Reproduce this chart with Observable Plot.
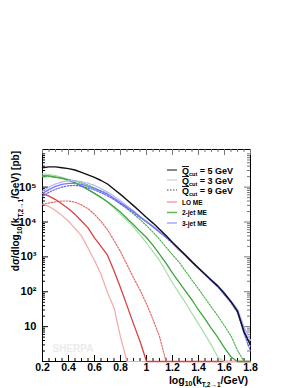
<!DOCTYPE html>
<html><head><meta charset="utf-8">
<script src="https://cdn.jsdelivr.net/npm/d3@7"></script>
<script src="https://cdn.jsdelivr.net/npm/@observablehq/plot@0.6"></script>
<style>body{margin:0;background:#fff}</style>
</head><body><div id="chart"></div>
<script>
// bin positions, log10(kT/GeV)
const xBins = [0.2,0.25,0.3,0.35,0.4,0.45,0.5,0.55,0.6,0.65,0.7,0.75,0.8,0.85,0.9,0.95,1.0,1.05,1.1,1.15,1.2,1.25,1.3,1.35,1.4,1.45,1.5,1.55,1.6,1.65,1.7,1.75,1.8];
// total, Qcut = 5 GeV
const total5 = [3.6e5,3.8e5,3.8e5,3.6e5,3.4e5,3.1e5,2.65e5,2.25e5,1.9e5,1.55e5,1.23e5,8.7e4,6.2e4,4.3e4,2.95e4,2.0e4,1.35e4,9.3e3,6.2e3,4.1e3,2.6e3,1.7e3,1.12e3,720,480,320,214,145,89,52,28,7,3];
// 3-jet ME
const jet3_q5 = [6.6e4,8.5e4,1.05e5,1.2e5,1.29e5,1.29e5,1.2e5,1.05e5,9.1e4,7.6e4,6.2e4,4.8e4,3.6e4,2.7e4,2.0e4,1.41e4,1.02e4,7.4e3,5.2e3,3.7e3,2.5e3,1.62e3,1.1e3,700,470,316,205,141,85,51,27,8,2.8];
const jet3_q3 = [7.6e4,1.0e5,1.23e5,1.41e5,1.51e5,1.51e5,1.45e5,1.29e5,1.12e5,9.1e4,7.2e4,5.5e4,4.1e4,2.9e4,2.1e4,1.45e4,1.05e4,7.6e3,5.4e3,3.8e3,2.57e3,1.66e3,1.15e3,740,480,330,219,148,93,55,32,10,4];
const jet3_q9 = [5.5e4,7.1e4,8.7e4,1.0e5,1.1e5,1.12e5,1.07e5,9.5e4,8.3e4,6.9e4,5.6e4,4.4e4,3.3e4,2.5e4,1.86e4,1.35e4,1.0e4,7.2e3,5.1e3,3.6e3,2.45e3,1.58e3,1.07e3,690,457,309,200,135,81,48,25,6.3,2];
// 2-jet ME
const jet2_q5 = [2.14e5,2.09e5,1.95e5,1.78e5,1.55e5,1.32e5,1.07e5,8.5e4,6.6e4,5.1e4,3.8e4,2.75e4,1.9e4,1.26e4,8.3e3,5.4e3,3.6e3,2.14e3,1.2e3,660,340,190,105,58,30,16.6,8.7,4.8,2.45,1.35,1,1,1];
const jet2_q3 = [2.4e5,2.3e5,2.14e5,1.9e5,1.66e5,1.38e5,1.12e5,8.7e4,6.6e4,5.0e4,3.7e4,2.5e4,1.66e4,1.1e4,7.1e3,4.3e3,2.5e3,1.41e3,790,380,178,93,48,24,12,6,2.9,1.3,1,1,1,1,1];
const jet2_q9 = [2.0e5,2.0e5,1.9e5,1.82e5,1.66e5,1.51e5,1.32e5,1.15e5,9.5e4,7.9e4,6.5e4,4.57e4,3.3e4,2.4e4,1.7e4,1.17e4,7.9e3,5.1e3,3.2e3,1.9e3,1.15e3,710,390,214,120,66,36,20,10.5,5.4,2.1,1,1];
// LO ME
const lo_q5 = [6.6e4,5.5e4,4.4e4,3.3e4,2.4e4,1.66e4,1.07e4,6.8e3,3.5e3,2.0e3,1.12e3,400,130,40,12,3.8,1,1,1,1,1,1,1,1,1,1,1,1,1,1,1,1,1];
const lo_q3 = [3.2e4,2.8e4,2.14e4,1.55e4,1.05e4,6.6e3,4.0e3,1.8e3,790,316,95,35,5,1,1,1,1,1,1,1,1,1,1,1,1,1,1,1,1,1,1,1,1];
const lo_q9 = [3.2e4,3.5e4,3.8e4,4.0e4,4.0e4,3.7e4,3.1e4,2.4e4,1.66e4,1.05e4,6.0e3,2.95e3,1.41e3,600,250,112,45,16,5.2,1,1,1,1,1,1,1,1,1,1,1,1,1,1];

const xTicks = [0.2,0.4,0.6,0.8,1.0,1.2,1.4,1.6,1.8];
const xTickLabels = ["0.2","0.4","0.6","0.8","1","1.2","1.4","1.6","1.8"];
const yTicks = [10,100,1000,10000,100000];
const yTickLabels = ["10","10²","10³","10⁴","10⁵"];

const legendQ = ["5 GeV","3 GeV","9 GeV"];
const legendME = ["LO ME","2-jet ME","3-jet ME"];

// series styling (drawn in this order)
const series = [
  {name:"LO ME Q3", v:lo_q3, stroke:"#f3a8a8", w:1.2, dash:null},
  {name:"LO ME Q9", v:lo_q9, stroke:"#e46a6a", w:1.2, dash:"1.5,1.5"},
  {name:"LO ME Q5", v:lo_q5, stroke:"#dc4040", w:1.3, dash:null},
  {name:"2-jet Q3", v:jet2_q3, stroke:"#a9dca9", w:1.2, dash:null},
  {name:"2-jet Q9", v:jet2_q9, stroke:"#52b452", w:1.2, dash:"1.5,1.5"},
  {name:"2-jet Q5", v:jet2_q5, stroke:"#3ca53c", w:1.3, dash:null},
  {name:"3-jet Q3", v:jet3_q3, stroke:"#b4b4ff", w:1.2, dash:null},
  {name:"3-jet Q9", v:jet3_q9, stroke:"#6464f0", w:1.2, dash:"1.5,1.5"},
  {name:"3-jet Q5", v:jet3_q5, stroke:"#7878ff", w:1.3, dash:null},
  {name:"total Q5", v:total5, stroke:"#111111", w:1.4, dash:null}
];

const W=300,H=388,mL=42,mR=50,mT=149,mB=27;
const fh = H-mT-mB, fw = W-mL-mR;

// minor tick positions
const xMinor = [];
for (let i=0;i<=32;i++){ const v = +(0.2+i*0.05).toFixed(2); if (!xTicks.some(t=>Math.abs(t-v)<1e-9)) xMinor.push(v); }
const yMinor = [];
for (let e=0;e<=5;e++) for (let m=2;m<=9;m++){ const v=m*Math.pow(10,e); if (v<=1.2e6) yMinor.push(v); }

const lineMarks = series.map(s => Plot.line(xBins.map((x,i)=>({x, y:s.v[i]})), {
  x:"x", y:"y", curve:"linear", stroke:s.stroke, strokeWidth:s.w,
  strokeDasharray: s.dash || undefined
}));

const plot = Plot.plot({
  width:W, height:H, marginLeft:mL, marginRight:mR, marginTop:mT, marginBottom:mB,
  style:{fontFamily:"'Liberation Sans', Arial, sans-serif", fontSize:"10.5px", fontWeight:"bold", background:"#fff", color:"#000"},
  x:{domain:[0.2,1.8]},
  y:{type:"log", domain:[1,1.2e6]},
  marks:[
    Plot.frame({stroke:"#000", strokeWidth:1}),
    // ticks inside the frame, all four sides
    Plot.tickX(xTicks,{x:d=>d, insetTop:fh-6, stroke:"#000"}),
    Plot.tickX(xTicks,{x:d=>d, insetBottom:fh-6, stroke:"#777"}),
    Plot.tickX(xMinor,{x:d=>d, insetTop:fh-3, stroke:"#000"}),
    Plot.tickX(xMinor,{x:d=>d, insetBottom:fh-3, stroke:"#777"}),
    Plot.tickY(yTicks,{y:d=>d, insetRight:fw-6, stroke:"#000"}),
    Plot.tickY(yTicks,{y:d=>d, insetLeft:fw-6, stroke:"#777"}),
    Plot.tickY(yMinor,{y:d=>d, insetRight:fw-3, stroke:"#000"}),
    Plot.tickY(yMinor,{y:d=>d, insetLeft:fw-3, stroke:"#777"}),
    Plot.axisX({ticks:xTicks, tickSize:0, tickPadding:2, tickFormat:d=>xTickLabels[xTicks.indexOf(d)], label:null}),
    Plot.axisY({ticks:yTicks, tickSize:0, tickPadding:6, tickFormat:d=>yTickLabels[yTicks.indexOf(d)], label:null, fontSize:11}),
    Plot.text(["SHERPA"],{frameAnchor:"bottom-left", dx:10, dy:-10, text:d=>d, fill:"#ebebeb", fontSize:10, fontWeight:"bold", textAnchor:"start"}),
    ...lineMarks
  ]
});
document.getElementById("chart").appendChild(plot);

const svg = d3.select(plot);
const ff = "'Liberation Sans', Arial, sans-serif";

// x-axis title
const xt = svg.append("text").attr("x",248).attr("y",384).attr("text-anchor","end")
  .attr("font-family",ff).attr("font-weight","bold").attr("font-size",10.5).attr("fill","#000");
xt.append("tspan").text("log");
xt.append("tspan").attr("font-size",7).attr("dy",2).text("10");
xt.append("tspan").attr("dy",-2).text("(k");
xt.append("tspan").attr("font-size",6.5).attr("dy",2.5).text("T,2→1");
xt.append("tspan").attr("dy",-2.5).text("/GeV)");

// y-axis title
const yt = svg.append("text").attr("transform","translate(19,151) rotate(-90)").attr("text-anchor","end")
  .attr("font-family",ff).attr("font-weight","bold").attr("font-size",10).attr("fill","#000");
yt.append("tspan").text("dσ/dlog");
yt.append("tspan").attr("font-size",7).attr("dy",2.5).text("10");
yt.append("tspan").attr("dy",-2.5).text("(k");
yt.append("tspan").attr("font-size",6.5).attr("dy",3.5).text("T,2→1");
yt.append("tspan").attr("dy",-3.5).text("/GeV) [pb]");

// legend
const lg = svg.append("g").attr("font-family",ff).attr("font-weight","bold").attr("fill","#000").attr("text-anchor","start");
const qStyles = [
  {stroke:"#888", w:2, dash:null},
  {stroke:"#c8c8c8", w:1, dash:null},
  {stroke:"#444", w:1, dash:"1.5,1.5"}
];
legendQ.forEach((lab,i)=>{
  const yb = 174 + i*10;
  lg.append("line").attr("x1",167).attr("x2",177).attr("y1",yb-4).attr("y2",yb-4)
    .attr("stroke",qStyles[i].stroke).attr("stroke-width",qStyles[i].w)
    .attr("stroke-dasharray",qStyles[i].dash);
  const t = lg.append("text").attr("x",182).attr("y",yb).attr("font-size",9).attr("text-anchor","start");
  t.append("tspan").attr("text-decoration","overline").text("Q");
  t.append("tspan").attr("font-size",5.5).attr("dy",2).text("cut");
  t.append("tspan").attr("dy",-2).text(" = " + lab);
});
const meColors = ["#f3a0a0","#5cb45c","#a8a8ff"];
legendME.forEach((lab,i)=>{
  const yb = 204.5 + i*10.5;
  lg.append("line").attr("x1",167).attr("x2",177).attr("y1",yb-2.5).attr("y2",yb-2.5)
    .attr("stroke",meColors[i]).attr("stroke-width",1.5);
  lg.append("text").attr("x",182).attr("y",yb).attr("font-size",6.5).attr("text-anchor","start").text(lab);
});
</script>
</body></html>
